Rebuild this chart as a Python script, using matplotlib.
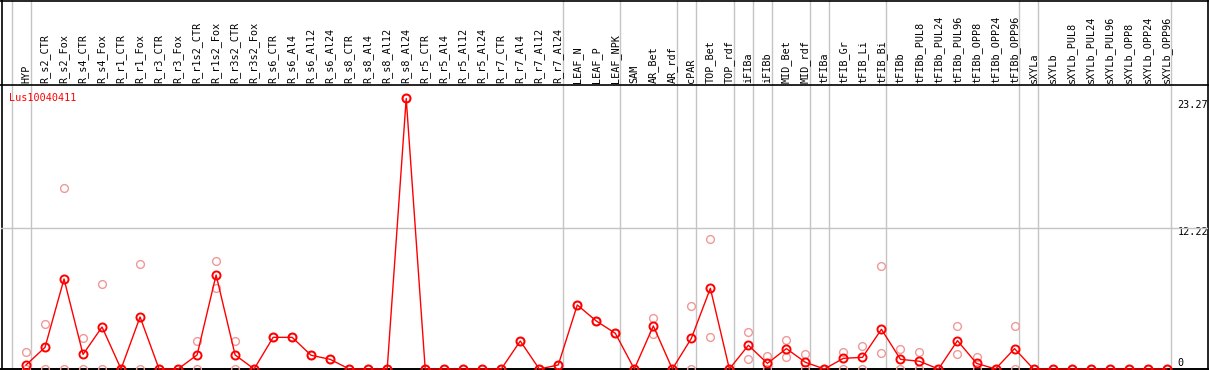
import matplotlib
matplotlib.use("Agg")
import matplotlib.pyplot as plt
import numpy as np

categories = ["HYP", "R_s2_CTR", "R_s2_Fox", "R_s4_CTR", "R_s4_Fox", "R_r1_CTR", "R_r1_Fox",
              "R_r3_CTR", "R_r3_Fox", "R_r1s2_CTR", "R_r1s2_Fox", "R_r3s2_CTR", "R_r3s2_Fox",
              "R_s6_CTR", "R_s6_Al4", "R_s6_Al12", "R_s6_Al24", "R_s8_CTR", "R_s8_Al4",
              "R_s8_Al12", "R_s8_Al24", "R_r5_CTR", "R_r5_Al4", "R_r5_Al12", "R_r5_Al24",
              "R_r7_CTR", "R_r7_Al4", "R_r7_Al12", "R_r7_Al24", "LEAF_N", "LEAF_P", "LEAF_NPK",
              "SAM", "AR_Bet", "AR_rdf", "cPAR", "TOP_Bet", "TOP_rdf", "iFIBa", "iFIBb",
              "MID_Bet", "MID_rdf", "tFIBa", "tFIB_Gr", "tFIB_Li", "tFIB_Bi", "tFIBb",
              "tFIBb_PUL8", "tFIBb_PUL24", "tFIBb_PUL96", "tFIBb_OPP8", "tFIBb_OPP24",
              "tFIBb_OPP96", "sXYLa", "sXYLb", "sXYLb_PUL8", "sXYLb_PUL24", "sXYLb_PUL96",
              "sXYLb_OPP8", "sXYLb_OPP24", "sXYLb_OPP96"]

mean_values = [0.35, 1.88, 7.82, 1.27, 3.65, 0.0, 4.52, 0.0, 0.0, 1.22, 8.17, 1.22, 0.0,
               2.75, 2.75, 1.19, 0.84, 0.0, 0.0, 0.0, 23.5, 0.0, 0.0, 0.0, 0.0, 0.0, 2.43,
               0.0, 0.35, 5.56, 4.17, 3.10, 0.0, 3.74, 0.0, 2.66, 7.01, 0.0, 2.06, 0.49,
               1.77, 0.58, 0.0, 0.93, 1.01, 3.45, 0.84, 0.67, 0.0, 2.46, 0.49, 0.0, 1.77,
               0.0, 0.0, 0.0, 0.0, 0.0, 0.0, 0.0, 0.0]

rep1_values = [1.45, 3.88, 15.7, 2.66, 7.36, 0.0, 9.10, 0.0, 0.0, 2.40, 9.36, 2.40, 0.0,
               2.75, 2.75, 1.19, 0.84, 0.0, 0.0, 0.0, 23.5, 0.0, 0.0, 0.0, 0.0, 0.0, 2.43,
               0.0, 0.35, 5.56, 4.17, 3.10, 0.0, 4.40, 0.0, 5.47, 11.29, 0.0, 3.21, 1.13,
               2.52, 1.30, 0.0, 1.50, 1.97, 8.95, 1.77, 1.45, 0.0, 3.71, 1.04, 0.0, 3.71,
               0.0, 0.0, 0.0, 0.0, 0.0, 0.0, 0.0, 0.0]

rep2_values = [0.0, 0.0, 0.0, 0.0, 0.0, 0.0, 0.0, 0.0, 0.0, 0.0, 7.01, 0.0, 0.0,
               2.75, 2.75, 1.19, 0.84, 0.0, 0.0, 0.0, 23.5, 0.0, 0.0, 0.0, 0.0, 0.0, 2.43,
               0.0, 0.35, 5.56, 4.17, 3.10, 0.0, 3.04, 0.0, 0.0, 2.75, 0.0, 0.84, 0.0,
               1.07, 0.0, 0.0, 0.0, 0.0, 1.36, 0.0, 0.0, 0.0, 1.27, 0.0, 0.0, 0.0,
               0.0, 0.0, 0.0, 0.0, 0.0, 0.0, 0.0, 0.0]

# group boundaries (after these category indices)
group_breaks = [-1, 0, 28, 31, 34, 35, 37, 38, 39, 41, 42, 45, 52, 53, 60]

gene_name = "Lus10040411"
ytick_values = [0, 12.22, 23.27]
ytick_labels = ["0", "12.22", "23.27"]

W, H = 1209, 370
x0_px, step_px = 26.0, 19.01

def px_to_i(px):
    return (px - x0_px) / step_px

fig = plt.figure(figsize=(W / 100, H / 100), dpi=100)

# background axes in pixel-y coordinates for frame/header
bg = fig.add_axes([0, 0, 1, 1])
bg.set_xlim(px_to_i(0), px_to_i(W))
bg.set_ylim(H, 0)
bg.axis("off")

mono = "DejaVu Sans Mono"
fs = 7.3

for b in group_breaks:
    bg.axvline(b + 0.25, color="#c4c4c4", lw=1.0, zorder=1)

# frame lines
bg.axhline(0.5, color="black", lw=1.2, zorder=3)
bg.axhline(85.3, color="black", lw=1.2, zorder=3)
bg.axhline(368.8, color="black", lw=1.4, zorder=3)
bg.axvline(px_to_i(1.5), color="black", lw=1.2, zorder=3)
bg.axvline(px_to_i(1208.0), color="black", lw=1.2, zorder=3)

for i, c in enumerate(categories):
    bg.text(i, 83.0, c, rotation=90, ha="center", va="bottom", fontsize=fs,
            family=mono, color="black", zorder=4)

bg.text(px_to_i(9), 97.7, gene_name, ha="left", va="center", fontsize=fs,
        family=mono, color="red", zorder=4)

# data axes
left_px, right_px, top_px, bot_px = 1.0, 1208.0, 85.3, 369.0
px_per_unit = (369.0 - 228.3) / 12.22
ax = fig.add_axes([left_px / W, (H - bot_px) / H, (right_px - left_px) / W,
                   (bot_px - top_px) / H])
ax.patch.set_alpha(0)
ax.set_xlim(px_to_i(left_px), px_to_i(right_px))
ax.set_ylim(0, (bot_px - top_px) / px_per_unit)
ax.axis("off")

ax.axhline(12.22, color="#c4c4c4", lw=1.0, zorder=1)

x = np.arange(len(categories))
ax.plot(x, rep1_values, linestyle="none", marker="o", ms=5.6, mfc="none",
        mec="#f09898", mew=1.0, zorder=2, clip_on=False)
ax.plot(x, rep2_values, linestyle="none", marker="o", ms=5.6, mfc="none",
        mec="#f09898", mew=1.0, zorder=2, clip_on=False)
ax.plot(x, mean_values, color="red", lw=1.0, marker="o", ms=5.8, mfc="none",
        mec="red", mew=1.4, zorder=3, clip_on=False)

# y tick labels on right
for v, lab in zip(ytick_values, ytick_labels):
    off = 4.0 if v > 0 else -6.5
    ypx = bot_px - v * px_per_unit + off
    bg.text(px_to_i(1177.5), ypx, lab, ha="left", va="center", fontsize=fs,
            family=mono, color="black", zorder=4)

fig.savefig("out.png", dpi=100)
